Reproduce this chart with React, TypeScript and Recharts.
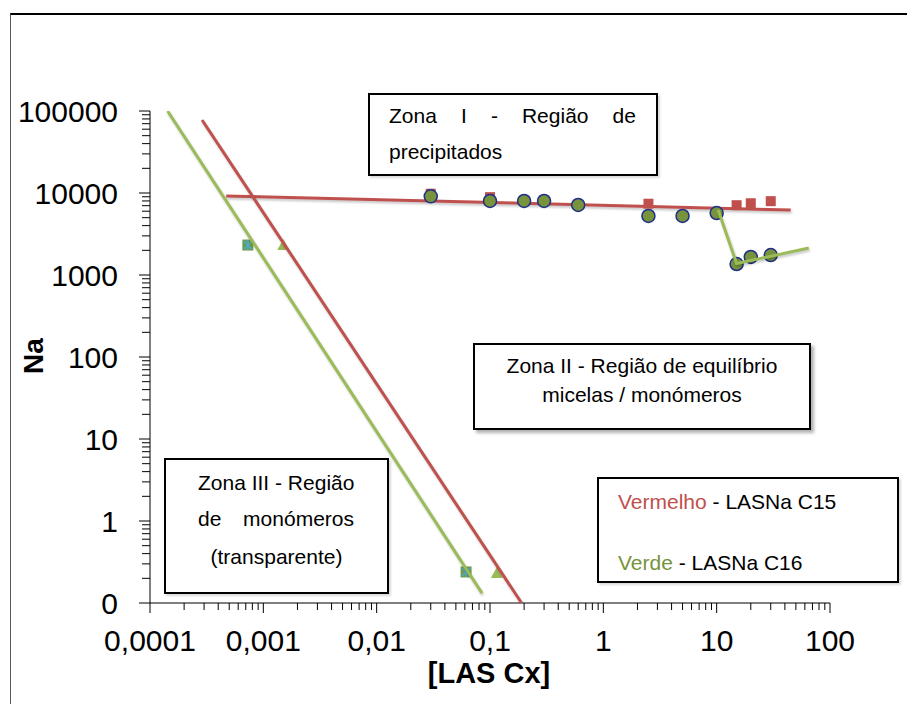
import React from "react";
import { ScatterChart, Scatter, XAxis, YAxis } from "recharts";

const FONT = '"Liberation Sans", Arial, sans-serif';
const RED = "#c0504d";
const GREEN = "#9bbb59";
const OLIVE = "#77933c";
const SHADOW = { filter: "drop-shadow(1px 2px 1px rgba(0,0,0,0.22))" };

// axis ticks (log 10)
const xMajor = [0.0001, 0.001, 0.01, 0.1, 1, 10, 100];
const xLabels = ["0,0001", "0,001", "0,01", "0,1", "1", "10", "100"];
const yMajor = [0.1, 1, 10, 100, 1000, 10000, 100000];
const yLabels = ["0", "1", "10", "100", "1000", "10000", "100000"];

// LASNa C15 (vermelho)
const c15Points = [
  { x: 0.03, y: 9800 },
  { x: 0.1, y: 8900 },
  { x: 2.5, y: 7400 },
  { x: 15, y: 7100 },
  { x: 20, y: 7500 },
  { x: 30, y: 7950 },
];
// LASNa C16 (verde)
const c16Points = [
  { x: 0.03, y: 9100 },
  { x: 0.1, y: 8000 },
  { x: 0.2, y: 8000 },
  { x: 0.3, y: 8000 },
  { x: 0.6, y: 7150 },
  { x: 2.5, y: 5250 },
  { x: 5, y: 5250 },
  { x: 10, y: 5700 },
  { x: 15, y: 1360 },
  { x: 20, y: 1660 },
  { x: 30, y: 1750 },
];
const triPoints = [
  { x: 0.0015, y: 2320 },
  { x: 0.115, y: 0.232 },
];
const sqPoints = [
  { x: 0.00073, y: 2320 },
  { x: 0.0615, y: 0.239 },
];

// trend lines
const c15Flat = [
  { x: 0.00047, y: 9200 },
  { x: 45, y: 6200 },
];
const c16Drop = [
  { x: 10.3, y: 6200 },
  { x: 15, y: 1380 },
  { x: 65, y: 2130 },
];
const c15Steep = [
  { x: 0.000288, y: 77600 },
  { x: 0.19, y: 0.1 },
];
const c16Steep = [
  { x: 0.000143, y: 100000 },
  { x: 0.085, y: 0.132 },
];

const minorOf = (majors: number[]) =>
  majors.slice(0, -1).flatMap((m) => [2, 3, 4, 5, 6, 7, 8, 9].map((k) => +(m * k).toPrecision(6)));
const xTicks = [...xMajor, ...minorOf(xMajor)].sort((a, b) => a - b);
const yTicks = [...yMajor, ...minorOf(yMajor)].sort((a, b) => a - b);

function XTick({ x, y, payload }: any) {
  const i = xMajor.indexOf(payload.value);
  return (
    <g>
      <line x1={x} x2={x} y1={y} y2={y + (i >= 0 ? 10 : 7)} stroke="#000" />
      {i >= 0 && (
        <text x={x} y={y + 48} textAnchor="middle" fontSize={30} fontFamily={FONT} fill="#000">
          {xLabels[i]}
        </text>
      )}
    </g>
  );
}

function YTick({ x, y, payload }: any) {
  const i = yMajor.indexOf(payload.value);
  return (
    <g>
      <line x1={x - (i >= 0 ? 11 : 8)} x2={x} y1={y} y2={y} stroke="#000" />
      {i >= 0 && (
        <text x={x - 32} y={y} dy="0.36em" textAnchor="end" fontSize={30} fontFamily={FONT} fill="#000">
          {yLabels[i]}
        </text>
      )}
    </g>
  );
}

const noDot = () => <g />;
const redSquare = (p: any) => <rect x={p.cx - 5} y={p.cy - 5} width={10} height={10} fill={RED} />;
const circle = (p: any) => (
  <circle cx={p.cx} cy={p.cy} r={6.5} fill={OLIVE} stroke="#1f2f8a" strokeWidth={1.5} />
);
const triangle = (p: any) => (
  <polygon points={`${p.cx},${p.cy - 6} ${p.cx + 6},${p.cy + 5} ${p.cx - 6},${p.cy + 5}`} fill={GREEN} />
);
const crossSquare = (p: any) => (
  <g>
    <rect x={p.cx - 5.5} y={p.cy - 5.5} width={11} height={11} fill="#6f9a50" />
    <path
      d={`M${p.cx - 4},${p.cy - 4}L${p.cx + 4},${p.cy + 4}M${p.cx + 4},${p.cy - 4}L${p.cx - 4},${p.cy + 4}M${p.cx},${p.cy - 5}L${p.cx},${p.cy + 5}`}
      stroke="#4bacc6"
      strokeWidth={1.5}
    />
  </g>
);

function Line({ left, top, width, align = "left", children, spread }: any) {
  return (
    <div
      style={{
        position: "absolute",
        left,
        top: top - 15,
        width,
        height: 30,
        lineHeight: "30px",
        fontSize: 21,
        textAlign: align,
        whiteSpace: "nowrap",
        display: spread ? "flex" : "block",
        justifyContent: spread ? "space-between" : undefined,
      }}
    >
      {children}
    </div>
  );
}

function Box({ left, top, right, bottom, shadow }: any) {
  return (
    <div
      style={{
        position: "absolute",
        left,
        top,
        width: right - left,
        height: bottom - top,
        boxSizing: "border-box",
        border: "2px solid #000",
        background: "#fff",
        boxShadow: shadow ? "3px 3px 3px rgba(0,0,0,0.3)" : "2px 2px 2px rgba(0,0,0,0.15)",
      }}
    />
  );
}

export default function App() {
  return (
    <div style={{ position: "relative", width: 907, height: 704, background: "#fff", fontFamily: FONT, color: "#000" }}>
      <style>{`body{margin:0}`}</style>
      <div
        style={{
          position: "absolute",
          left: 10,
          top: 13,
          width: 897,
          height: 691,
          boxSizing: "border-box",
          borderTop: "2px solid #000",
          borderLeft: "1px solid #555",
        }}
      />
      <div style={{ position: "absolute", left: 0, top: 0 }}>
        <ScatterChart width={907} height={704} margin={{ top: 111, right: 77, bottom: 100, left: 149 }}>
          <XAxis
            type="number"
            dataKey="x"
            scale="log"
            domain={[0.0001, 100]}
            allowDataOverflow
            ticks={xTicks}
            interval={0}
            height={1}
            tickSize={0}
            tickMargin={0}
            tickLine={false}
            tick={<XTick />}
            axisLine={{ stroke: "#000" }}
          />
          <YAxis
            type="number"
            dataKey="y"
            scale="log"
            domain={[0.1, 100000]}
            allowDataOverflow
            ticks={yTicks}
            interval={0}
            width={1}
            tickSize={0}
            tickMargin={0}
            tickLine={false}
            tick={<YTick />}
            axisLine={{ stroke: "#000" }}
          />
          <Scatter data={c15Flat} line={{ stroke: RED, strokeWidth: 3, style: SHADOW }} shape={noDot} isAnimationActive={false} />
          <Scatter data={c15Points} shape={redSquare} isAnimationActive={false} />
          <Scatter data={c16Points} shape={circle} isAnimationActive={false} />
          <Scatter data={c16Drop} line={{ stroke: GREEN, strokeWidth: 3, style: SHADOW }} shape={noDot} isAnimationActive={false} />
          <Scatter data={triPoints} shape={triangle} isAnimationActive={false} />
          <Scatter data={sqPoints} shape={crossSquare} isAnimationActive={false} />
          <Scatter data={c15Steep} line={{ stroke: RED, strokeWidth: 3, style: SHADOW }} shape={noDot} isAnimationActive={false} />
          <Scatter data={c16Steep} line={{ stroke: GREEN, strokeWidth: 3, style: SHADOW }} shape={noDot} isAnimationActive={false} />
        </ScatterChart>
      </div>

      <div
        style={{
          position: "absolute",
          left: 34,
          top: 356,
          transform: "translate(-50%, -50%) rotate(-90deg)",
          fontSize: 28,
          fontWeight: "bold",
          whiteSpace: "nowrap",
        }}
      >
        Na
      </div>
      <div
        style={{
          position: "absolute",
          left: 289,
          width: 400,
          top: 660,
          textAlign: "center",
          fontSize: 29,
          fontWeight: "bold",
          lineHeight: "26px",
          height: 26,
        }}
      >
        [LAS Cx]
      </div>

      <Box left={368} top={93} right={658} bottom={176} />
      <Line left={389} top={116} width={247} spread>
        <span>Zona</span>
        <span>I</span>
        <span>-</span>
        <span>Região</span>
        <span>de</span>
      </Line>
      <Line left={389} top={152} width={247}>
        precipitados
      </Line>

      <Box left={473} top={343} right={811} bottom={430} shadow />
      <Line left={473} top={366} width={338} align="center">
        Zona II - Região de equilíbrio
      </Line>
      <Line left={473} top={395} width={338} align="center">
        micelas / monómeros
      </Line>

      <Box left={164} top={458} right={389} bottom={594} />
      <Line left={198} top={483} width={156} align="center">
        Zona III - Região
      </Line>
      <Line left={198} top={519} width={156} spread>
        <span>de</span>
        <span>monómeros</span>
      </Line>
      <Line left={164} top={557} width={225} align="center">
        (transparente)
      </Line>

      <Box left={597} top={477} right={899} bottom={583} />
      <Line left={618} top={502} width={270}>
        <span style={{ color: RED }}>Vermelho</span> - LASNa C15
      </Line>
      <Line left={618} top={563} width={270}>
        <span style={{ color: OLIVE }}>Verde</span> - LASNa C16
      </Line>
    </div>
  );
}
